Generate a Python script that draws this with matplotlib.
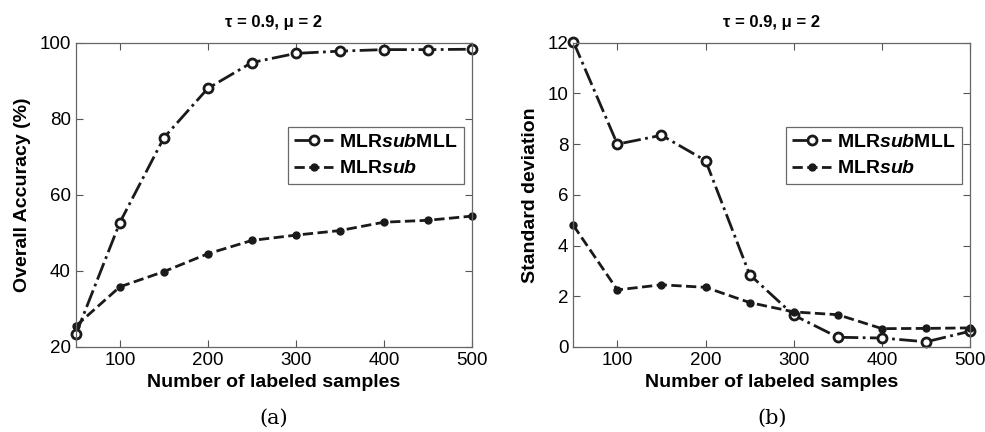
import numpy as np
import matplotlib.pyplot as plt

samples = [50, 100, 150, 200, 250, 300, 350, 400, 450, 500]
oa_mll = [23.3, 52.7, 75.0, 88.0, 94.8, 97.2, 97.8, 98.2, 98.2, 98.3]
oa_sub = [25.5, 35.8, 39.8, 44.5, 48.0, 49.4, 50.6, 52.8, 53.3, 54.4]
sd_mll = [12.05, 8.0, 8.35, 7.35, 2.85, 1.25, 0.38, 0.35, 0.2, 0.62]
sd_sub = [4.8, 2.25, 2.45, 2.35, 1.75, 1.38, 1.27, 0.72, 0.73, 0.75]

plt.rcParams['font.family'] = ['Liberation Sans', 'DejaVu Sans']
plt.rcParams['mathtext.fontset'] = 'custom'
plt.rcParams['mathtext.it'] = 'Liberation Sans:italic:bold'
plt.rcParams['mathtext.rm'] = 'Liberation Sans:bold'

fig = plt.figure(figsize=(9.85, 4.32), dpi=100)
ax1 = fig.add_axes([0.077, 0.197, 0.402, 0.704])
ax2 = fig.add_axes([0.582, 0.197, 0.403, 0.704])

def style(ax, ylabel, ylim, yticks, letter):
    ax.set_xlim(50, 500)
    ax.set_ylim(*ylim)
    ax.set_xticks([100, 200, 300, 400, 500])
    ax.set_yticks(yticks)
    ax.tick_params(direction='in', top=True, right=True, labelsize=13.5, length=5, color='#555555')
    for s in ax.spines.values():
        s.set_color('#666666')
        s.set_linewidth(0.9)
    ax.set_xlabel('Number of labeled samples', fontsize=14, fontweight='bold', labelpad=4)
    ax.set_ylabel(ylabel, fontsize=14, fontweight='bold', labelpad=6)
    ax.set_title('\u03c4 = 0.9, \u03bc = 2', fontsize=12, fontweight='bold', pad=11)
    ax.text(0.5, -0.205, letter, transform=ax.transAxes, ha='center', va='top',
            fontsize=15, family='DejaVu Serif')
    leg = ax.legend(loc='upper left', bbox_to_anchor=(0.535, 0.724),
                    prop={'weight': 'bold', 'size': 14}, frameon=True, fancybox=False,
                    handlelength=2.0, handletextpad=0.3, borderpad=0.35, labelspacing=0.45,
                    borderaxespad=0)
    leg.get_frame().set_edgecolor('#444444')
    leg.get_frame().set_linewidth(0.9)

lbl_mll = r'MLR$\it{sub}$MLL'
lbl_sub = r'MLR$\it{sub}$'

ax1.plot(samples, oa_mll, color='#1a1a1a', linestyle='-.', linewidth=2, marker='o',
         markersize=6.5, markerfacecolor='white', markeredgewidth=2, label=lbl_mll, clip_on=False)
ax1.plot(samples, oa_sub, color='#1a1a1a', linestyle='--', linewidth=2, marker='o',
         markersize=5, markerfacecolor='#1a1a1a', label=lbl_sub, clip_on=False)
style(ax1, 'Overall Accuracy (%)', (20, 100), [20, 40, 60, 80, 100], '(a)')

ax2.plot(samples, sd_mll, color='#1a1a1a', linestyle='-.', linewidth=2, marker='o',
         markersize=6.5, markerfacecolor='white', markeredgewidth=2, label=lbl_mll, clip_on=False)
ax2.plot(samples, sd_sub, color='#1a1a1a', linestyle='--', linewidth=2, marker='o',
         markersize=5, markerfacecolor='#1a1a1a', label=lbl_sub, clip_on=False)
style(ax2, 'Standard deviation', (0, 12), [0, 2, 4, 6, 8, 10, 12], '(b)')

fig.savefig('out.png', dpi=100)
